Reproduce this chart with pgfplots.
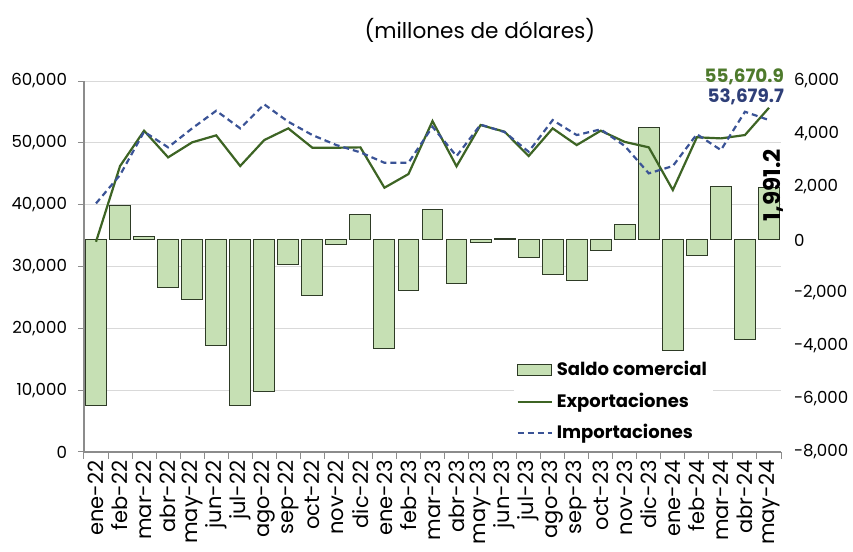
\documentclass[border=0pt]{standalone}
\usepackage{pgfplots}
\pgfplotsset{compat=1.18}
\usepackage{fontspec}
\setmainfont{Poppins}
\definecolor{barfill}{HTML}{C6E0B4}
\definecolor{baredge}{HTML}{2E3B26}
\definecolor{expcol}{HTML}{3D6424}
\definecolor{expLab}{HTML}{4E7A2C}
\definecolor{impcol}{HTML}{3A5396}
\definecolor{impLab}{HTML}{2F3F78}
\definecolor{gridgray}{HTML}{D9D9D9}
\definecolor{axgray}{HTML}{8C8C8C}
\pgfplotstableread{
x saldo exp imp
0 -6230 34000 40200
1 1320 46250 44800
2 150 51960 51800
3 -1800 47650 49270
4 -2250 50080 52340
5 -3970 51210 55190
6 -6230 46250 52340
7 -5700 50450 56220
8 -920 52340 53410
9 -2110 49210 51260
10 -160 49210 49640
11 970 49270 48460
12 -4090 42740 46780
13 -1900 44950 46780
14 1160 53520 52600
15 -1640 46200 47850
16 -100 52880 52950
17 60 51800 51740
18 -670 47860 48560
19 -1300 52340 53680
20 -1530 49640 51260
21 -390 51960 52180
22 570 50150 49500
23 4250 49270 45060
24 -4170 42370 46250
25 -580 50900 51400
26 2000 50720 48830
27 -3740 51260 55030
28 1991.2 55670.9 53679.7
}\datatable
\begin{document}
\begin{tikzpicture}[font=\fontsize{8.3}{10}\selectfont]
\useasboundingbox (-42pt,-50pt) rectangle (384.5pt,226pt);
\pgfplotsset{base/.style={width=348.5pt,height=185.5pt,scale only axis,
  xmin=-0.5,xmax=28.5, at={(0pt,0pt)}, anchor=south west}}
% grid + left axis + x labels
\begin{axis}[base, ymin=0, ymax=60000,
  axis x line*=bottom, axis y line*=left,
  axis line style={draw=axgray, line width=0.6pt},
  ytick={0,10000,...,60000}, scaled y ticks=false,
  yticklabel style={/pgf/number format/1000 sep={,},/pgf/number format/assume math mode=true, xshift=-2pt},
  ymajorgrids, grid style={draw=gridgray,line width=0.5pt},
  tick align=outside,
  major tick length=3pt, minor tick length=3.5pt,
  tick style={draw=axgray, line width=0.5pt},
  xtick={0,...,28},
  major x tick style={draw=none},
  minor xtick={-0.5,0.5,...,28.5},
  xticklabels={ene-22,feb-22,mar-22,abr-22,may-22,jun-22,jul-22,ago-22,sep-22,oct-22,nov-22,dic-22,ene-23,feb-23,mar-23,abr-23,may-23,jun-23,jul-23,ago-23,sep-23,oct-23,nov-23,dic-23,ene-24,feb-24,mar-24,abr-24,may-24},
  x tick label style={rotate=90, anchor=east, font=\fontsize{10.5}{12}\selectfont, inner sep=1pt},
]
\end{axis}
% bars, right axis
\begin{axis}[base, ymin=-8000, ymax=6000,
  axis x line=none, axis y line*=right,
  y axis line style={draw=none},
  ytick={-8000,-6000,...,6000}, scaled y ticks=false,
  major tick length=0pt,
  yticklabel style={/pgf/number format/1000 sep={,},/pgf/number format/assume math mode=true, xshift=3pt},
  clip=false,
]
\addplot[ybar, bar width=0.87, fill=barfill, draw=baredge, line width=0.5pt] table[x=x,y=saldo]{\datatable};
\node[rotate=90, font=\fontsize{11.5}{13}\selectfont\bfseries, text=black] at (axis cs:28,1991.2) [yshift=-2pt, xshift=1pt] {1,991.2};
\end{axis}
% lines
\begin{axis}[base, ymin=0, ymax=60000, hide axis, clip=false,
  legend style={at={(0.617,0.261)}, anchor=north west, draw=none, fill=white,
    font=\fontsize{9}{11}\selectfont\bfseries, row sep=3pt, inner sep=1pt},
  legend cell align=left,
]
\addlegendimage{area legend, fill=barfill, draw=baredge, line width=0.5pt}
\addlegendentry{Saldo comercial}
\addplot[expcol, line width=1.1pt, mark=none] table[x=x,y=exp]{\datatable};
\addlegendentry{Exportaciones}
\addplot[impcol, line width=1.1pt, dashed, dash pattern=on 3pt off 2pt, mark=none] table[x=x,y=imp]{\datatable};
\addlegendentry{Importaciones}
\node[font=\fontsize{9.2}{11}\selectfont\bfseries, text=expLab, anchor=east] at (axis cs:28,55670.9) [xshift=11pt, yshift=15.5pt] {55,670.9};
\node[font=\fontsize{9.2}{11}\selectfont\bfseries, text=impLab, anchor=east] at (axis cs:28,53679.7) [xshift=11pt, yshift=11.5pt] {53,679.7};
\node[font=\fontsize{10.8}{12}\selectfont] at (rel axis cs:0.568,1.137) {(millones de dólares)};
\end{axis}
\end{tikzpicture}
\end{document}
